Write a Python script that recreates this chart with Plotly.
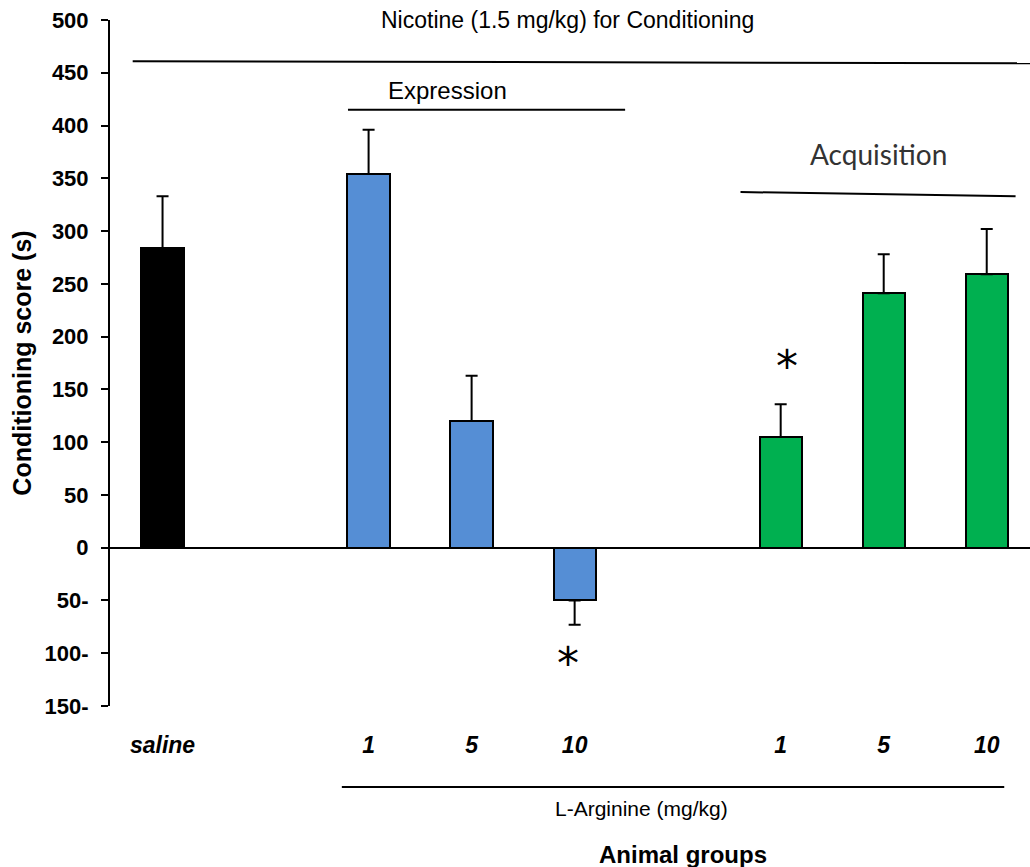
import plotly.graph_objects as go

# ---- data ----
groups = ["saline", "1", "5", "10", "1", "5", "10"]
x_pos = [0, 2, 3, 4, 6, 7, 8]
means = [284, 354, 120, -50, 105, 241, 259]
sems = [49, 42, 43, 23, 31, 37, 43]
bar_colors = ["#000000", "#558ED5", "#558ED5", "#558ED5", "#00B050", "#00B050", "#00B050"]
y_tickvals = [500, 450, 400, 350, 300, 250, 200, 150, 100, 50, 0, -50, -100, -150]
y_ticktext = ["500", "450", "400", "350", "300", "250", "200", "150", "100", "50", "0", "50-", "100-", "150-"]
sig_x = [4, 6]
sig_y = [-110, 172]

FONT = "Liberation Sans, Arial, sans-serif"

err_plus = [s if m >= 0 else 0 for m, s in zip(means, sems)]
err_minus = [s if m < 0 else 0 for m, s in zip(means, sems)]

fig = go.Figure()
fig.add_trace(go.Bar(
    x=x_pos, y=means, width=0.41,
    marker=dict(color=bar_colors, line=dict(color="black", width=2)),
    error_y=dict(type="data", symmetric=False, array=err_plus, arrayminus=err_minus,
                 color="black", thickness=2, width=6),
    showlegend=False,
))

# significance asterisks
for sx, sy in zip(sig_x, sig_y):
    fig.add_annotation(x=sx + 0.06 if sx == 6 else sx - 0.06, y=sy, text="*", showarrow=False,
                       font=dict(family="DejaVu Sans", size=44, color="black"),
                       xref="x", yref="y", yanchor="middle")

# group lines
fig.add_shape(type="line", xref="x", yref="y", x0=-0.29, y0=461, x1=8.42, y1=459,
              line=dict(color="black", width=2))
fig.add_shape(type="line", xref="x", yref="y", x0=1.80, y0=415, x1=4.49, y1=415,
              line=dict(color="black", width=2))
fig.add_shape(type="line", xref="x", yref="y", x0=5.61, y0=337, x1=8.28, y1=333,
              line=dict(color="black", width=2))
fig.add_shape(type="line", xref="paper", yref="paper", x0=0.252, y0=-0.118, x1=0.972, y1=-0.118,
              line=dict(color="black", width=2))

# group texts
fig.add_annotation(x=0.497, y=1.0, xref="paper", yref="paper", text="Nicotine (1.5 mg/kg) for Conditioning",
                   showarrow=False, font=dict(family=FONT, size=23, color="black"), yanchor="middle")
fig.add_annotation(x=2.77, y=433, xref="x", yref="y", text="Expression",
                   showarrow=False, font=dict(family=FONT, size=24, color="black"), yanchor="middle")
fig.add_annotation(x=6.95, y=373, xref="x", yref="y", text="Acquisition",
                   showarrow=False, font=dict(family="Lato, Open Sans, sans-serif", size=28, color="#333333"),
                   yanchor="middle")
fig.add_annotation(x=0.578, y=-0.149, xref="paper", yref="paper", text="L-Arginine (mg/kg)",
                   showarrow=False, font=dict(family=FONT, size=21, color="black"), yanchor="middle")
fig.add_annotation(x=0.623, y=-0.217, xref="paper", yref="paper", text="<b>Animal groups</b>",
                   showarrow=False, font=dict(family=FONT, size=24, color="black"), yanchor="middle")

fig.update_layout(
    width=1030, height=867,
    margin=dict(l=110, r=0, t=20, b=161),
    plot_bgcolor="white", paper_bgcolor="white",
    bargap=0,
)
fig.update_xaxes(
    range=[-0.51, 8.42], tickvals=x_pos, ticktext=groups,
    showline=False, showgrid=False, zeroline=False, ticks="",
    tickfont=dict(family=FONT, size=23, color="black", weight="bold", style="italic"),
    ticklabelstandoff=23,
)
fig.update_yaxes(
    range=[-150, 500], tickvals=y_tickvals, ticktext=y_ticktext,
    showline=True, linecolor="black", linewidth=2,
    ticks="outside", ticklen=7, tickwidth=2, tickcolor="black",
    showgrid=False, zeroline=True, zerolinecolor="black", zerolinewidth=2,
    tickfont=dict(family=FONT, size=22, color="black", weight="bold"),
    ticklabelstandoff=8,
    title=dict(text="Conditioning score (s)", font=dict(family=FONT, size=25, color="black", weight="bold"),
               standoff=6),
)

fig.write_html("out.html")
